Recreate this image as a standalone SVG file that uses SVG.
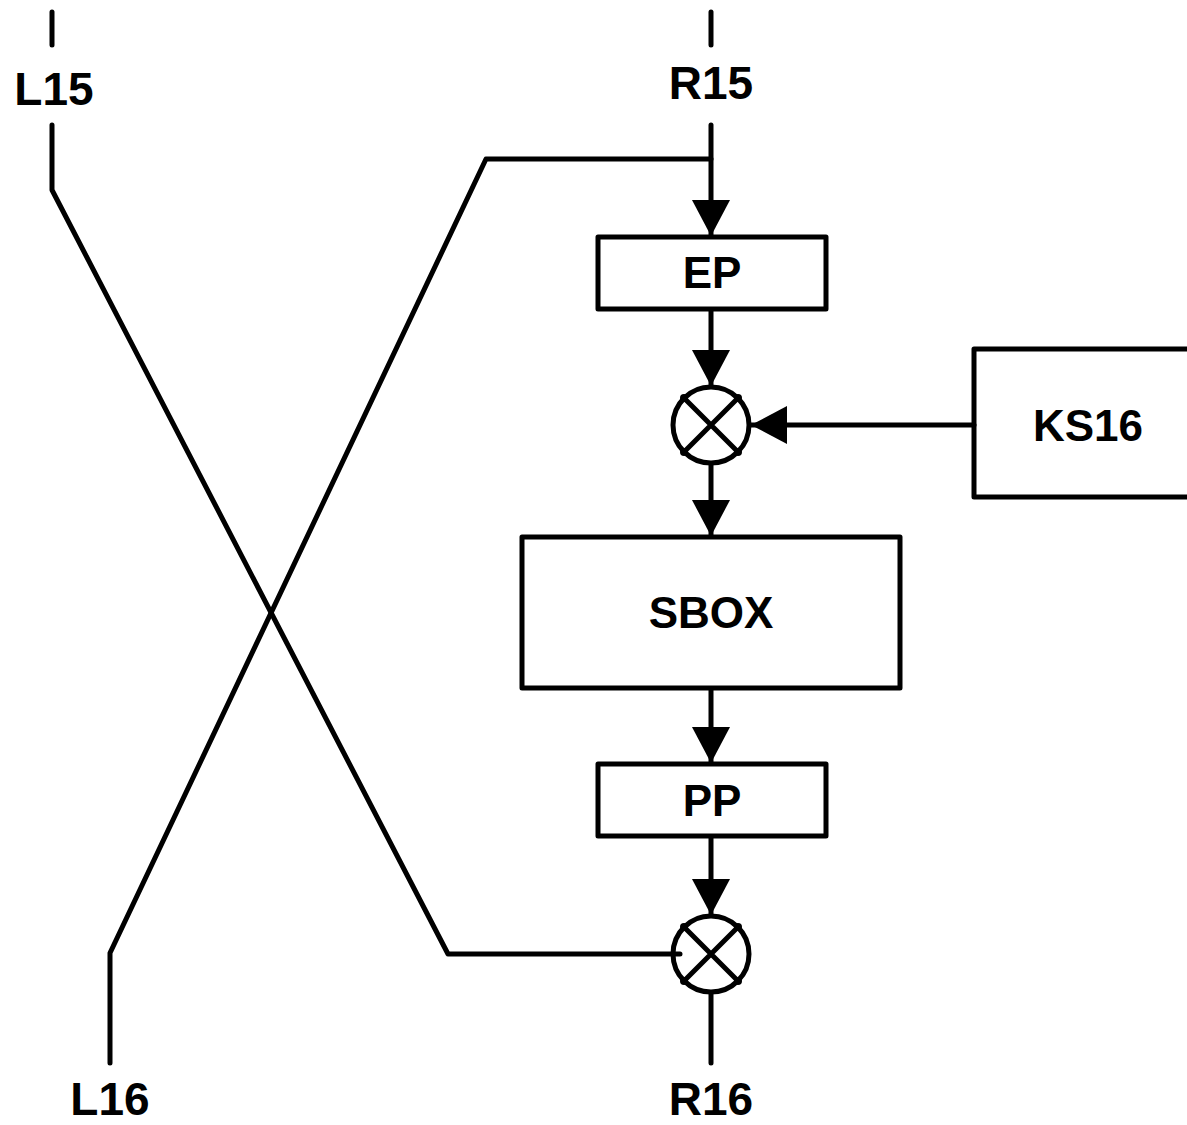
<svg xmlns="http://www.w3.org/2000/svg" width="1187" height="1125" viewBox="0 0 1187 1125">
<style>
.ln{fill:none;stroke:#000;stroke-width:5;stroke-linejoin:round;stroke-linecap:round}
.bx{fill:#fff;stroke:#000;stroke-width:5;stroke-linejoin:round}
.t{font-family:"Liberation Sans",Arial,sans-serif;font-weight:bold;font-size:44px;text-anchor:middle;fill:#000}
.lb{font-size:46px}
</style>
<defs>
<marker id="ah" viewBox="0 0 36 38" refX="36" refY="19" markerWidth="36" markerHeight="38" markerUnits="userSpaceOnUse" orient="auto">
<path d="M0,0 L36,19 L0,38 Z" fill="#000"/>
</marker>
</defs>
<rect width="1187" height="1125" fill="#fff"/>
<g id="connectors">
<path class="ln" d="M52,12 V45"/>
<path class="ln" d="M52,125 V190 L448,954 H680"/>
<path class="ln" d="M711,12 V45"/>
<path class="ln" d="M711,125 V236" marker-end="url(#ah)"/>
<path class="ln" d="M711,159 H486 L110,953 V1063"/>
<path class="ln" d="M711,310 V386" marker-end="url(#ah)"/>
<path class="ln" d="M974,425 H751" marker-end="url(#ah)"/>
<path class="ln" d="M711,464 V536" marker-end="url(#ah)"/>
<path class="ln" d="M711,689 V763" marker-end="url(#ah)"/>
<path class="ln" d="M711,837 V915" marker-end="url(#ah)"/>
<path class="ln" d="M711,993 V1063"/>
</g>
<g id="L15"><text class="t lb" x="54" y="105">L15</text></g>
<g id="R15"><text class="t lb" x="711" y="99">R15</text></g>
<g id="L16"><text class="t lb" x="110" y="1115">L16</text></g>
<g id="R16"><text class="t lb" x="711" y="1115">R16</text></g>
<g id="EP"><rect class="bx" x="598" y="237" width="228" height="72"/><text class="t" x="712" y="288">EP</text></g>
<g id="XOR1">
<circle class="ln" cx="711" cy="425" r="38"/>
<path class="ln" d="M684,398 L738,452 M738,398 L684,452"/>
<g fill="#000"><circle cx="684" cy="398" r="4"/><circle cx="738" cy="398" r="4"/><circle cx="684" cy="452" r="4"/><circle cx="738" cy="452" r="4"/></g>
</g>
<g id="KS16"><path class="ln" d="M1190,349 H974 V497 H1190"/><text class="t" x="1088" y="441">KS16</text></g>
<g id="SBOX"><rect class="bx" x="522" y="537" width="378" height="151"/><text class="t" x="711" y="628">SBOX</text></g>
<g id="PP"><rect class="bx" x="598" y="764" width="228" height="72"/><text class="t" x="712" y="816">PP</text></g>
<g id="XOR2">
<circle class="ln" cx="711" cy="954" r="38"/>
<path class="ln" d="M684,927 L738,981 M738,927 L684,981"/>
<g fill="#000"><circle cx="684" cy="927" r="4"/><circle cx="738" cy="927" r="4"/><circle cx="684" cy="981" r="4"/><circle cx="738" cy="981" r="4"/></g>
</g>
</svg>
